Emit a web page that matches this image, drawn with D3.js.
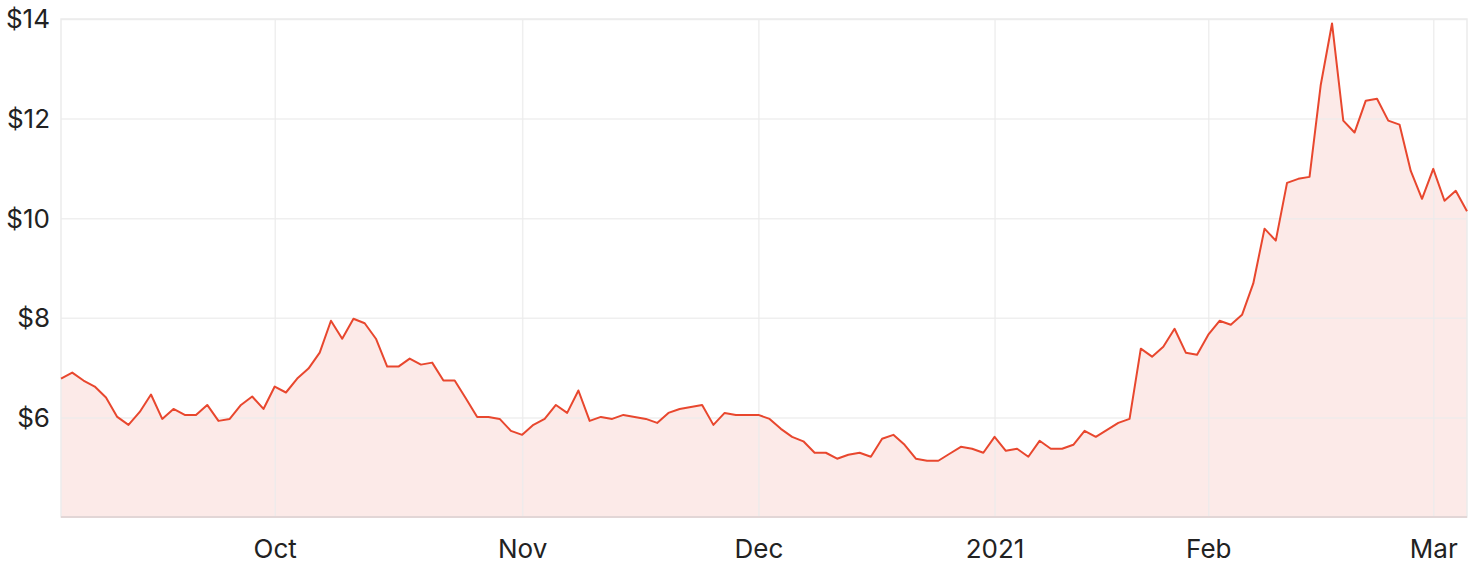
<!DOCTYPE html>
<html>
<head>
<meta charset="utf-8">
<script src="https://cdn.jsdelivr.net/npm/d3@7"></script>
<style>
  body { margin: 0; background: #fff; }
  svg text { font-family: Inter, "Open Sans", sans-serif; fill: #222; }
</style>
</head>
<body>
<svg id="chart" width="1480" height="570"></svg>
<script>
// closing prices, one per trading day (Sep 2020 - Mar 2021)
var prices = [
	6.78, 6.90, 6.74, 6.62, 6.40, 6.01, 5.85, 6.11, 6.46, 5.97,
	6.17, 6.05, 6.05, 6.25, 5.93, 5.97, 6.25, 6.42, 6.17, 6.62,
	6.50, 6.78, 6.98, 7.30, 7.94, 7.58, 7.98, 7.89, 7.58, 7.02,
	7.02, 7.18, 7.06, 7.10, 6.74, 6.74, 6.38, 6.01, 6.01, 5.97,
	5.73, 5.65, 5.85, 5.97, 6.25, 6.09, 6.54, 5.93, 6.01, 5.97,
	6.05, 6.01, 5.97, 5.89, 6.09, 6.17, 6.21, 6.25, 5.85, 6.09,
	6.05, 6.05, 6.05, 5.97, 5.77, 5.61, 5.52, 5.29, 5.29, 5.17,
	5.25, 5.29, 5.21, 5.57, 5.65, 5.45, 5.17, 5.13, 5.13, 5.27,
	5.41, 5.37, 5.29, 5.61, 5.33, 5.37, 5.21, 5.53, 5.37, 5.37,
	5.45, 5.73, 5.61, 5.75, 5.89, 5.97, 7.38, 7.22, 7.42, 7.78,
	7.30, 7.26, 7.66, 7.94, 7.86, 8.06, 8.69, 9.79, 9.55, 10.71,
	10.79, 10.83, 12.68, 13.91, 11.96, 11.72, 12.36, 12.40, 11.96, 11.88,
	10.95, 10.39, 10.99, 10.35, 10.55, 10.14
];

// first trading day of each month (index into prices)
var monthIdx = [19, 41, 62, 83, 102, 122];
var monthLabels = ["Oct", "Nov", "Dec", "2021", "Feb", "Mar"];

var yTicks = [6, 8, 10, 12, 14];

var cfg = {
	left: 61,
	right: 1467,
	top: 19,
	bottom: 517,
	line: "#e8472e",
	fill: "#fceae8",
	grid: "#ebebeb"
};

var svg = d3.select("#chart");

var x = d3.scaleLinear()
	.domain([0, prices.length - 1])
	.range([cfg.left, cfg.right]);

var y = d3.scaleLinear()
	.domain([4, 14])
	.range([cfg.bottom, cfg.top]);

// area first so grid sits on top of it
var area = d3.area()
	.x(function(d, i) { return x(i); })
	.y0(cfg.bottom)
	.y1(function(d) { return y(d); });

svg.append("path")
	.datum(prices)
	.attr("fill", cfg.fill)
	.attr("d", area);

// horizontal grid + labels
var yAxis = d3.axisLeft(y)
	.tickValues(yTicks)
	.tickSize(-(cfg.right - cfg.left))
	.tickPadding(11)
	.tickFormat(function(d) { return "$" + d; });

svg.append("g")
	.attr("transform", "translate(" + cfg.left + ",0)")
	.call(yAxis)
	.call(function(g) {
		g.select(".domain").remove();
		g.selectAll("line").attr("stroke", cfg.grid).attr("stroke-opacity", 0.8).attr("stroke-width", 1.5);
		g.selectAll("text").attr("font-size", 26).attr("dy", "0.34em");
	});

// vertical grid + month labels
var xAxis = d3.axisBottom(x)
	.tickValues(monthIdx)
	.tickSize(-(cfg.bottom - cfg.top))
	.tickPadding(23)
	.tickFormat(function(d, i) { return monthLabels[i]; });

svg.append("g")
	.attr("transform", "translate(0," + cfg.bottom + ")")
	.call(xAxis)
	.call(function(g) {
		g.select(".domain").remove();
		g.selectAll("line").attr("stroke", cfg.grid).attr("stroke-opacity", 0.8).attr("stroke-width", 1.5);
		g.selectAll("text").attr("font-size", 26);
	});

// frame
svg.append("rect")
	.attr("x", cfg.left)
	.attr("y", cfg.top)
	.attr("width", cfg.right - cfg.left)
	.attr("height", cfg.bottom - cfg.top)
	.attr("fill", "none")
	.attr("stroke", cfg.grid)
	.attr("stroke-width", 1.5);

svg.append("line")
	.attr("x1", cfg.left).attr("x2", cfg.right)
	.attr("y1", cfg.bottom).attr("y2", cfg.bottom)
	.attr("stroke", "#e2d6d6")
	.attr("stroke-width", 2);

var line = d3.line()
	.x(function(d, i) { return x(i); })
	.y(function(d) { return y(d); });

svg.append("path")
	.datum(prices)
	.attr("fill", "none")
	.attr("stroke", cfg.line)
	.attr("stroke-width", 2)
	.attr("stroke-linejoin", "round")
	.attr("d", line);
</script>
</body>
</html>
